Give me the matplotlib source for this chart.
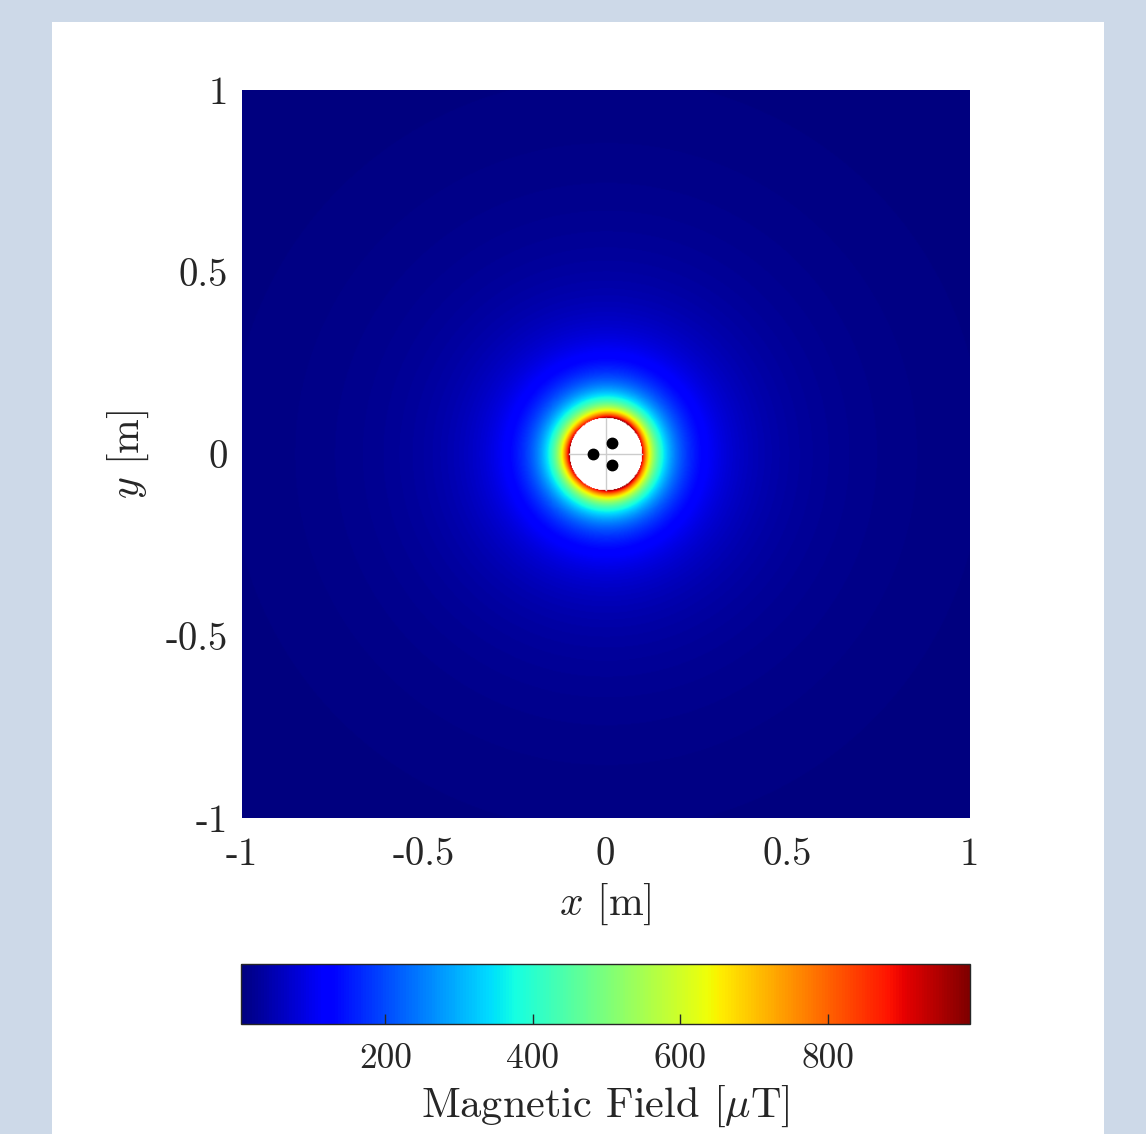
import numpy as np
import matplotlib
matplotlib.use("Agg")
import matplotlib.pyplot as plt
from matplotlib.patches import Rectangle

# ---- data ----
cond_x = [-0.035, 0.018, 0.018]          # conductor positions [m]
cond_y = [0.0, 0.031, -0.031]
current_amp = [590.0, 590.0, 590.0]      # rms current [A]
current_phase_deg = [0.0, -120.0, 120.0] # phase angles
mask_radius = 0.1                        # blanked region [m]
grid_n = 801
x_ticks = [-1, -0.5, 0, 0.5, 1]
y_ticks = [-1, -0.5, 0, 0.5, 1]
x_ticklabels = ["-1", "-0.5", "0", "0.5", "1"]
y_ticklabels = ["-1", "-0.5", "0", "0.5", "1"]
cbar_ticks = [200, 400, 600, 800]
cbar_ticklabels = ["200", "400", "600", "800"]

plt.rcParams["font.family"] = "serif"
plt.rcParams["font.serif"] = ["cmr10", "DejaVu Serif"]
plt.rcParams["mathtext.fontset"] = "cm"
plt.rcParams["axes.unicode_minus"] = False
plt.rcParams["axes.formatter.use_mathtext"] = True

# ---- field computation (Biot-Savart for line currents) ----
mu0 = 4e-7 * np.pi
xs = np.linspace(-1, 1, grid_n)
X, Y = np.meshgrid(xs, xs)
Bx = np.zeros_like(X, dtype=complex)
By = np.zeros_like(X, dtype=complex)
for cx, cy, amp, ph in zip(cond_x, cond_y, current_amp, current_phase_deg):
    I = amp * np.exp(1j * np.deg2rad(ph))
    dx = X - cx
    dy = Y - cy
    r2 = dx**2 + dy**2
    k = mu0 * I / (2 * np.pi * r2)
    Bx += -k * dy
    By += k * dx
B = np.sqrt(np.abs(Bx)**2 + np.abs(By)**2) * 1e6  # microtesla
B[X**2 + Y**2 < mask_radius**2] = np.nan

fig = plt.figure(figsize=(11.46, 11.34), dpi=100)
fig.patch.set_facecolor("#cdd9e8")
fig.patches.append(Rectangle((52/1146, 0), (1104-52)/1146, (1134-22)/1134,
                             transform=fig.transFigure, facecolor="white",
                             edgecolor="none", zorder=-1))

ax = fig.add_axes([241/1146, (1134-818)/1134, 729/1146, 728/1134])
cmap = plt.get_cmap("jet").copy()
cmap.set_bad("white")
im = ax.imshow(B, extent=[-1, 1, -1, 1], origin="lower", cmap=cmap,
               vmin=np.nanmin(B), vmax=np.nanmax(B), interpolation="bilinear")
ax.plot([-mask_radius, mask_radius], [0, 0], color="#cccccc", lw=1.0)
ax.plot([0, 0], [-mask_radius, mask_radius], color="#cccccc", lw=1.0)
ax.plot(cond_x, cond_y, "o", color="black", ms=7.5)
ax.set_xlim(-1, 1)
ax.set_ylim(-1, 1)
ax.set_xticks(x_ticks)
ax.set_xticklabels(x_ticklabels)
ax.set_yticks(y_ticks)
ax.set_yticklabels(y_ticklabels)
ax.tick_params(axis="x", length=0, labelsize=28, colors="#262626", pad=14)
ax.tick_params(axis="y", length=0, labelsize=28, colors="#262626", pad=10)
for s in ax.spines.values():
    s.set_visible(False)
ax.set_xlabel("$x$ [m]", fontsize=30, color="#262626", labelpad=6)
ax.set_ylabel("$y$ [m]", fontsize=30, color="#262626", labelpad=10)

cax = fig.add_axes([241/1146, (1134-1024)/1134, 729/1146, 60/1134])
cb = fig.colorbar(im, cax=cax, orientation="horizontal")
cb.set_ticks(cbar_ticks)
cb.set_ticklabels(cbar_ticklabels)
cax.tick_params(direction="in", length=7, labelsize=25.5, colors="#262626",
                pad=14, width=1)
cb.outline.set_linewidth(1.0)
cb.outline.set_edgecolor("#262626")
cb.set_label(r"Magnetic Field [$\mu$T]", fontsize=30.5, color="#262626", labelpad=6)

fig.savefig("out.png", dpi=100, facecolor=fig.get_facecolor())
